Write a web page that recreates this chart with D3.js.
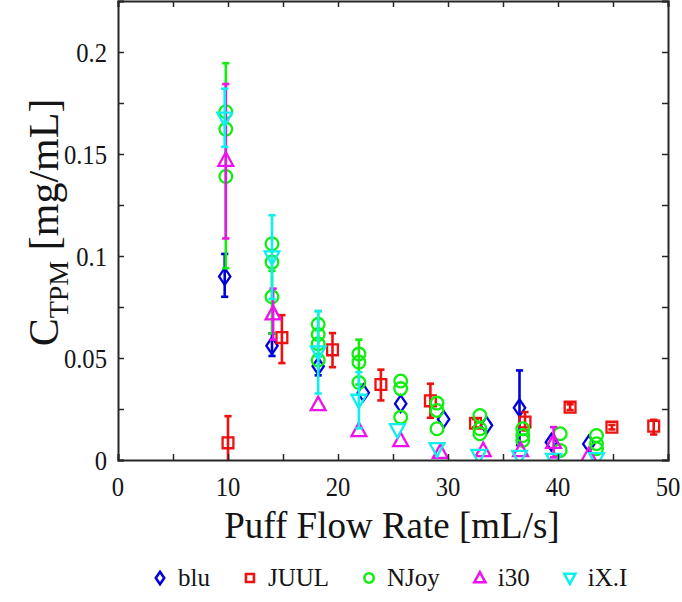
<!DOCTYPE html>
<html><head><meta charset="utf-8">
<script src="https://cdn.jsdelivr.net/npm/d3@7"></script>
<style>
body{margin:0;background:#fff}svg{display:block}
</style>
</head><body>
<svg id="chart" width="682" height="602"></svg>
<script>
// ---- data ----
const seriesNames = ["blu", "JUUL", "NJoy", "i30", "iX.I"];
const seriesColors = ["#0000d8", "#ee1111", "#11ee11", "#ee11ee", "#11eeee"];
const seriesShapes = ["diamond", "square", "circle", "triUp", "triDown"];

const bluX  = [9.7, 14.0, 18.2, 22.3, 25.7, 29.6, 33.5, 36.5, 39.4, 42.8];
const bluY  = [0.090, 0.056, 0.046, 0.033, 0.0276, 0.020, 0.017, 0.0256, 0.0087, 0.0079];
const bluLo = [0.080, 0.051, 0.0415, null, null, null, null, 0.0073, null, null];
const bluHi = [0.101, 0.062, 0.051, null, null, null, null, 0.0439, null, null];

const juulX  = [10.0, 14.9, 19.5, 23.9, 28.4, 32.5, 37.0, 41.1, 44.9, 48.7];
const juulY  = [0.0084, 0.060, 0.054, 0.037, 0.029, 0.018, 0.0186, 0.0259, 0.0161, 0.0166];
const juulLo = [-0.0047, 0.0475, 0.0455, 0.0292, 0.0207, 0.016, 0.0145, 0.0245, 0.0150, 0.0125];
const juulHi = [0.0215, 0.071, 0.0622, 0.0443, 0.0374, 0.020, 0.0235, 0.0273, 0.0172, 0.0197];

const njoyX  = [9.8, 9.8, 9.8, 14.0, 14.0, 14.0, 18.2, 18.2, 18.2, 18.2, 21.9, 21.9, 21.9,
                25.7, 25.7, 25.7, 29.0, 29.0, 29.0, 32.9, 32.9, 32.9, 36.8, 36.8, 36.8,
                40.2, 40.2, 43.5, 43.5, 43.5];
const njoyY  = [0.1707, 0.1622, 0.139, 0.106, 0.097, 0.080, 0.0665, 0.0615, 0.057, 0.049,
                0.052, 0.048, 0.038, 0.0387, 0.035, 0.021, 0.0279, 0.0243, 0.0153,
                0.0218, 0.0153, 0.0129, 0.0153, 0.012, 0.0096, 0.0129, 0.0047,
                0.012, 0.008, 0.0055];
const njoyLo = [null, null, 0.094, null, null, 0.062, null, 0.051, null, null,
                null, 0.037, null, null, null, null, null, null, null,
                null, null, null, null, null, null, null, null, null, null, null];
const njoyHi = [null, null, 0.1945, null, null, 0.0927, null, 0.073, null, null,
                null, 0.059, null, null, null, null, null, null, null,
                null, null, null, null, null, null, null, null, null, null, null];

const i30X  = [9.8, 14.1, 18.2, 21.9, 25.7, 29.3, 33.2, 36.6, 39.6, 42.8];
const i30Y  = [0.147, 0.0717, 0.0272, 0.0145, 0.0096, 0.0038, 0.0047, 0.0047, 0.0087, 0.0022];
const i30Lo = [0.1086, 0.059, null, null, null, null, null, null, 0.0013, null];
const i30Hi = [0.1843, 0.084, null, null, null, null, null, null, 0.0161, null];

const ixiX  = [9.7, 14.0, 18.2, 21.9, 25.4, 29.0, 32.8, 36.5, 39.6, 43.5];
const ixiY  = [0.1675, 0.0995, 0.0529, 0.0292, 0.0148, 0.0055, 0.0022, 0.0017, 0.0002, 0.0006];
const ixiLo = [0.1535, 0.079, 0.0326, 0.0155, null, null, null, null, null, null];
const ixiHi = [0.182, 0.12, 0.073, 0.0431, null, null, null, null, null, null];

const xTickLabels = [0, 10, 20, 30, 40, 50];
const yTickLabels = [0, 0.05, 0.1, 0.15, 0.2];
const xLabel = "Puff Flow Rate [mL/s]";

// ---- build ----
const raw = [
  [bluX, bluY, bluLo, bluHi], [juulX, juulY, juulLo, juulHi], [njoyX, njoyY, njoyLo, njoyHi],
  [i30X, i30Y, i30Lo, i30Hi], [ixiX, ixiY, ixiLo, ixiHi]
];
const series = raw.map((r, k) => ({
  name: seriesNames[k], color: seriesColors[k], shape: seriesShapes[k],
  pts: r[0].map((x, i) => ({x, y: r[1][i], lo: r[2][i], hi: r[3][i]}))
}));

const svg = d3.select("#chart");
const L = 118, R = 668, T = 1, B = 460;
const x = d3.scaleLinear().domain([0, 50]).range([L, R]);
const y = d3.scaleLinear().domain([0, 0.225]).range([B, T]);
const FONT = "Liberation Serif";
const AX = "#262626";
const TXT = "#141414";

svg.append("defs").append("clipPath").attr("id", "clip")
  .append("rect").attr("x", L).attr("y", T).attr("width", R - L).attr("height", B - T);

function markerPath(shape, s) {
  switch (shape) {
    case "diamond": return `M0,${-s*0.62}L${s*0.42},0L0,${s*0.62}L${-s*0.42},0Z`;
    case "square": return `M${-s*0.4},${-s*0.4}H${s*0.4}V${s*0.4}H${-s*0.4}Z`;
    case "circle": { const r = s*0.47; return `M${r},0A${r},${r} 0 1,1 ${-r},0A${r},${r} 0 1,1 ${r},0Z`; }
    case "triUp": return `M0,${-s*0.58}L${s*0.55},${s*0.42}L${-s*0.55},${s*0.42}Z`;
    case "triDown": return `M0,${s*0.58}L${s*0.55},${-s*0.42}L${-s*0.55},${-s*0.42}Z`;
  }
}

const plot = svg.append("g").attr("clip-path", "url(#clip)");
series.forEach(s => {
  const g = plot.append("g");
  const eb = s.pts.filter(p => p.lo !== null);
  eb.forEach(p => {
    const cx = x(p.x);
    g.append("line").attr("x1", cx).attr("x2", cx).attr("y1", y(p.lo)).attr("y2", y(p.hi))
      .attr("stroke", s.color).attr("stroke-width", 2.6);
    [p.lo, p.hi].forEach(v => g.append("line").attr("x1", cx - 3.6).attr("x2", cx + 3.6)
      .attr("y1", y(v)).attr("y2", y(v)).attr("stroke", s.color).attr("stroke-width", 2.6));
  });
  g.selectAll("path.m").data(s.pts).join("path").attr("class", "m")
    .attr("transform", p => `translate(${x(p.x)},${y(p.y)})`)
    .attr("d", markerPath(s.shape, 13.5))
    .attr("fill", "none").attr("stroke", s.color).attr("stroke-width", 2.3);
});

// axes (ticks from d3 axes, labels drawn from the same scales)
const tickLen = 6;
const xTicks = d3.range(0, 51, 5);
const yTicks = d3.range(0, 0.2251, 0.025);
function styleAxis(g) {
  g.select(".domain").attr("stroke", AX).attr("stroke-width", 2);
  g.selectAll(".tick line").attr("stroke", AX).attr("stroke-width", 1.5);
  g.selectAll(".tick text").remove();
}
svg.append("g").attr("transform", `translate(0,${B})`)
  .call(d3.axisBottom(x).tickValues(xTicks).tickSize(-tickLen)).call(styleAxis);
svg.append("g").attr("transform", `translate(0,${T})`)
  .call(d3.axisTop(x).tickValues(xTicks).tickSize(-tickLen)).call(styleAxis);
svg.append("g").attr("transform", `translate(${L},0)`)
  .call(d3.axisLeft(y).tickValues(yTicks).tickSize(-tickLen)).call(styleAxis);
svg.append("g").attr("transform", `translate(${R},0)`)
  .call(d3.axisRight(y).tickValues(yTicks).tickSize(-tickLen)).call(styleAxis);

svg.append("g").selectAll("text").data(xTickLabels).join("text")
  .attr("transform", d => `translate(${x(d)},${B + 36}) scale(0.88,1)`).attr("text-anchor", "middle")
  .attr("font-family", FONT).attr("font-size", 28).attr("fill", TXT).text(d => d);
svg.append("g").selectAll("text").data(yTickLabels).join("text")
  .attr("transform", d => `translate(${L - 11},${y(d) + 9.5}) scale(0.88,1)`).attr("text-anchor", "end")
  .attr("font-family", FONT).attr("font-size", 28).attr("fill", TXT).text(d => d);

// axis titles
svg.append("text").attr("x", (L + R) / 2 - 1).attr("y", 538).attr("text-anchor", "middle")
  .attr("font-family", FONT).attr("font-size", 37).attr("fill", TXT).text(xLabel);
const yt = svg.append("text").attr("transform", `translate(58,${(T + B) / 2 - 8}) rotate(-90)`)
  .attr("text-anchor", "middle").attr("font-family", FONT).attr("font-size", 42).attr("fill", TXT);
yt.append("tspan").text("C");
yt.append("tspan").attr("dy", 10).attr("font-size", 28).text("TPM");
yt.append("tspan").attr("dy", -10).text(" [mg/mL]");

// legend
const leg = svg.append("g");
let lx = 160;
const ly = 578;
series.forEach(s => {
  leg.append("path").attr("transform", `translate(${lx},${ly})`).attr("d", markerPath(s.shape, 10))
    .attr("fill", "none").attr("stroke", s.color).attr("stroke-width", 2.6);
  const t = leg.append("text").attr("x", lx + 18).attr("y", ly + 8)
    .attr("font-family", FONT).attr("font-size", 25).attr("fill", TXT).text(s.name);
  lx = lx + 18 + t.node().getComputedTextLength() + 40;
});
</script>
</body></html>
